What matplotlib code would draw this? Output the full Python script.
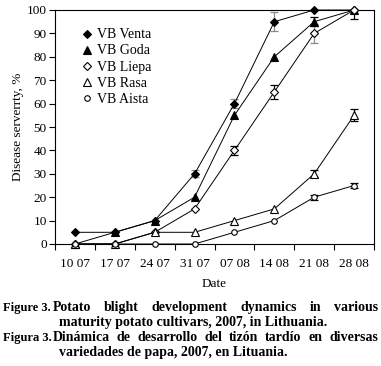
import matplotlib
matplotlib.use("Agg")
import matplotlib.pyplot as plt
import numpy as np

# ── data ──────────────────────────────────────────────────────────────────────
dates = ["10 07", "17 07", "24 07", "31 07", "07 08", "14 08", "21 08", "28 08"]

venta = [5, 5, 10, 30, 60, 95, 100, 100]
goda  = [0, 5, 10, 20, 55, 80, 95, 100]
liepa = [0, 0, 5, 15, 40, 65, 90, 100]
rasa  = [0, 0, 5, 5, 10, 15, 30, 55]
aista = [0, 0, 0, 0, 5, 10, 20, 25]

venta_err = [0, 0, 0, 1.5, 2, 4, 0, 0]
goda_err  = [0, 0, 0, 0, 0, 0, 2, 4]
liepa_err = [0, 0, 0, 0, 2, 3, 4, 0]
rasa_err  = [0, 0, 0, 0, 0, 0, 1.5, 2.5]
aista_err = [0, 0, 0, 0, 0, 0, 1, 1]

# ── styles ────────────────────────────────────────────────────────────────────
series = [
    ("VB Venta", venta, venta_err, dict(marker="D", ms=4.5, mfc="black")),
    ("VB Goda",  goda,  goda_err,  dict(marker="^", ms=5.5, mfc="black")),
    ("VB Liepa", liepa, liepa_err, dict(marker="D", ms=4.5, mfc="white")),
    ("VB Rasa",  rasa,  rasa_err,  dict(marker="^", ms=5.5, mfc="white")),
    ("VB Aista", aista, aista_err, dict(marker="o", ms=4.0, mfc="white")),
]
# grey error bars in the reference
grey_bars = {("VB Venta", 3), ("VB Venta", 4), ("VB Venta", 5), ("VB Liepa", 6)}

plt.rcParams["font.family"] = ["Liberation Serif", "DejaVu Serif"]

W, H = 381, 366
fig = plt.figure(figsize=(W / 100, H / 100), dpi=100)
ax = fig.add_axes([55 / W, (H - 244) / H, (374 - 55) / W, (244 - 10) / H])

x = np.arange(len(dates))
handles = []
for name, vals, errs, st in series:
    for i, (v, e) in enumerate(zip(vals, errs)):
        if e > 0:
            col = "#8a8a8a" if (name, i) in grey_bars else "black"
            ax.errorbar(x[i], v, yerr=e, fmt="none", ecolor=col,
                        elinewidth=0.9, capsize=3, capthick=0.9, zorder=2)
    ln, = ax.plot(x, vals, color="black", lw=0.7, mec="black", mew=0.8,
                  clip_on=False, zorder=3, label=name, **st)
    handles.append(ln)

ax.set_xlim(-0.5, len(dates) - 0.5)
ax.set_ylim(0, 100)
ax.set_yticks(np.arange(0, 101, 10))
ax.set_xticks(x)
ax.set_xticklabels(dates)
ax.set_xticks(np.arange(-0.5, len(dates), 1), minor=True)
ax.tick_params(axis="x", which="major", length=0, pad=10, labelsize=9.5)
ax.tick_params(axis="x", which="minor", length=4, width=0.8, direction="out")
ax.tick_params(axis="y", length=4, width=0.8, direction="out", labelsize=9.5, pad=2)
for s in ax.spines.values():
    s.set_linewidth(0.8)

ax.set_xlabel("Date", fontsize=9.5, labelpad=6)
ax.set_ylabel("Disease serverrty, %", fontsize=9.5, labelpad=2)

leg = ax.legend(handles=handles, loc="upper left", bbox_to_anchor=(0.07, 0.945),
                frameon=False, fontsize=10, handlelength=0.6, handletextpad=0.45,
                labelspacing=0.22, borderaxespad=0)
for h in leg.legend_handles:
    h.set_linestyle("none")

# ── caption (justified lines built word by word) ─────────────────────────────
cap = dict(fontsize=10, fontweight="bold", va="baseline")
lab = dict(fontsize=9, fontweight="bold", va="baseline")
fig.canvas.draw()
rend = fig.canvas.get_renderer()


def justify(words, x0, x1, y):
    widths = []
    for w in words:
        t = fig.text(0, 0, w, **cap)
        widths.append(t.get_window_extent(rend).width)
        t.remove()
    gap = (x1 - x0 - sum(widths)) / (len(words) - 1)
    xx = x0
    for w, wd in zip(words, widths):
        fig.text(xx / W, 1 - y / H, w, **cap)
        xx += wd + gap


fig.text(3 / W, 1 - 311 / H, "Figure 3.", **lab)
justify("Potato blight development dynamics in various".split(), 53, 378, 311)
fig.text(59 / W, 1 - 326 / H, "maturity potato cultivars, 2007, in Lithuania.", **cap)
fig.text(3 / W, 1 - 341 / H, "Figura 3.", **lab)
justify("Dinámica de desarrollo del tizón tardío en diversas".split(), 53, 378, 341)
fig.text(59 / W, 1 - 356 / H, "variedades de papa, 2007, en Lituania.", **cap)

fig.savefig("out.png", dpi=100)
